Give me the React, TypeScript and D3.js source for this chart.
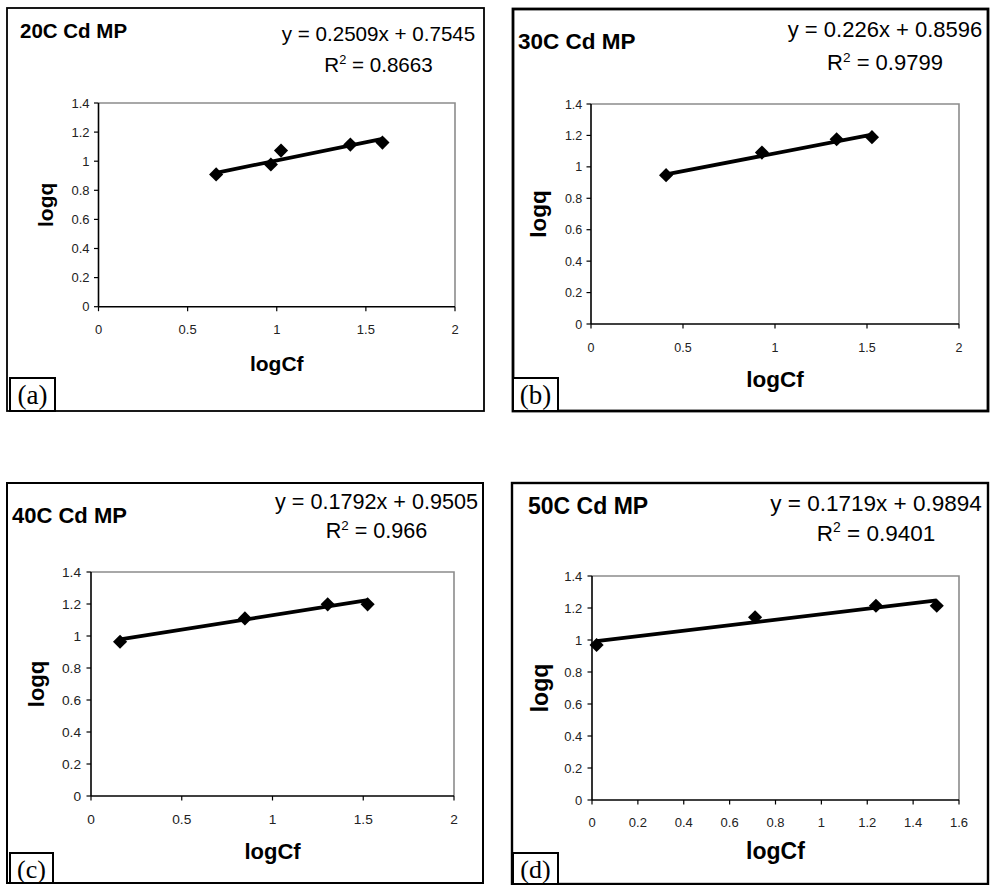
import React from "react";
import * as d3 from "d3";

// ---------- data ----------
const panelLabels = ["(a)", "(b)", "(c)", "(d)"];
const titles = ["20C Cd MP", "30C Cd MP", "40C Cd MP", "50C Cd MP"];
const equations = ["y = 0.2509x + 0.7545", "y = 0.226x + 0.8596", "y = 0.1792x + 0.9505", "y = 0.1719x + 0.9894"];
const r2Values = ["0.8663", "0.9799", "0.966", "0.9401"];
const slopes = [0.2509, 0.226, 0.1792, 0.1719];
const intercepts = [0.7545, 0.8596, 0.9505, 0.9894];

const logCf20 = [0.66, 0.967, 1.024, 1.413, 1.593];
const logq20 = [0.909, 0.977, 1.073, 1.114, 1.128];
const logCf30 = [0.408, 0.929, 1.335, 1.527];
const logq30 = [0.947, 1.091, 1.176, 1.189];
const logCf40 = [0.16, 0.848, 1.304, 1.524];
const logq40 = [0.964, 1.11, 1.198, 1.198];
const logCf50 = [0.02, 0.711, 1.238, 1.503];
const logq50 = [0.969, 1.142, 1.214, 1.214];

const xTicks2 = [0, 0.5, 1, 1.5, 2];
const xTicks16 = [0, 0.2, 0.4, 0.6, 0.8, 1, 1.2, 1.4, 1.6];
const xTickLabels2 = ["0", "0.5", "1", "1.5", "2"];
const xTickLabels16 = ["0", "0.2", "0.4", "0.6", "0.8", "1", "1.2", "1.4", "1.6"];
const yTicks = [0, 0.2, 0.4, 0.6, 0.8, 1, 1.2, 1.4];
const yTickLabels = ["0", "0.2", "0.4", "0.6", "0.8", "1", "1.2", "1.4"];
const xAxisTitle = "logCf";
const yAxisTitle = "logq";

const xs = [logCf20, logCf30, logCf40, logCf50];
const ys = [logq20, logq30, logq40, logq50];
const xTickSets = [xTicks2, xTicks2, xTicks2, xTicks16];
const xTickLabelSets = [xTickLabels2, xTickLabels2, xTickLabels2, xTickLabels16];

// ---------- layout ----------
const layouts = [
  { box: [7, 8, 484, 411], bw: 1.8, plot: [98.5, 103, 455, 306.7], title: [20, 38.3, 20.5], eq: [378.5, 40.7, 71.7, 20.6], tick: 13, yGap: 9, xTickY: 333.5, xlabelY: 370.5, ylabelX: 52.5, axisFs: 21, lab: [10, 378, 55, 411, 403.5, 27] },
  { box: [513, 9, 988, 411], bw: 2.8, plot: [591, 104, 959, 324], title: [518, 49.3, 22.5], eq: [885, 36.7, 70, 22], tick: 12.5, yGap: 8.7, xTickY: 351.5, xlabelY: 387, ylabelX: 546, axisFs: 22.5, lab: [513, 378, 558, 411, 403.5, 27] },
  { box: [7, 483, 483, 883], bw: 2, plot: [91, 572, 454, 796], title: [12, 522.7, 22], eq: [376.5, 509.3, 538.3, 21.6], tick: 13.7, yGap: 10, xTickY: 824, xlabelY: 859, ylabelX: 44, axisFs: 22, lab: [10, 853, 53, 883, 878, 26] },
  { box: [512, 483, 988, 884], bw: 2.4, plot: [592, 576, 959, 800], title: [528, 514, 23], eq: [876, 510.7, 540.7, 22.5], tick: 13, yGap: 9.7, xTickY: 826.5, xlabelY: 859, ylabelX: 548, axisFs: 23, lab: [513, 853, 558, 884, 878, 26] },
];

const SANS = "'Liberation Sans', Arial, Helvetica, sans-serif";
const SERIF = "'Liberation Serif', 'Times New Roman', serif";

function Panel({ i }: { i: number }) {
  const L = layouts[i];
  const [x0, y0, x1, y1] = L.plot;
  const xt = xTickSets[i];
  const x = d3.scaleLinear().domain([xt[0], xt[xt.length - 1]]).range([x0, x1]);
  const y = d3.scaleLinear().domain([0, 1.4]).range([y1, y0]);
  const dx = xs[i];
  const dy = ys[i];
  const xmin = d3.min(dx) as number;
  const xmax = d3.max(dx) as number;
  const line = d3.line<number>().x((v) => x(v)).y((v) => y(slopes[i] * v + intercepts[i]));
  const diamond = d3.symbol().type(d3.symbolSquare).size(100)();
  const [bx0, by0, bx1, by1] = L.box;
  const [lx0, ly0, lx1, ly1, lby, lfs] = L.lab;
  const eqFs = L.eq[3];
  return (
    <g>
      <rect x={bx0} y={by0} width={bx1 - bx0} height={by1 - by0} fill="#fff" stroke="#000" strokeWidth={L.bw} />
      <text x={L.title[0]} y={L.title[1]} fontFamily={SANS} fontWeight="bold" fontSize={L.title[2]} fill="#000">{titles[i]}</text>
      <text x={L.eq[0]} y={L.eq[1]} textAnchor="middle" fontFamily={SANS} fontSize={eqFs} fill="#000">{equations[i]}</text>
      <text x={L.eq[0]} y={L.eq[2]} textAnchor="middle" fontFamily={SANS} fontSize={eqFs} fill="#000">
        <tspan>R</tspan>
        <tspan dy={-eqFs * 0.38} fontSize={eqFs * 0.62}>2</tspan>
        <tspan dy={eqFs * 0.38}>{" = " + r2Values[i]}</tspan>
      </text>
      {/* plot frame top/right */}
      <path d={`M${x0},${y0}H${x1}V${y1}`} fill="none" stroke="#8c8c8c" strokeWidth={1.6} />
      {/* axes */}
      <line x1={x0} x2={x0} y1={y0} y2={y1} stroke="#000" strokeWidth={1.6} />
      <line x1={x0} x2={x1} y1={y1} y2={y1} stroke="#000" strokeWidth={1.6} />
      {yTicks.map((t, k) => (
        <g key={"y" + k}>
          <line x1={x0 - 4.5} x2={x0} y1={y(t)} y2={y(t)} stroke="#000" strokeWidth={1.2} />
          <text x={x0 - L.yGap} y={y(t) + L.tick * 0.36} textAnchor="end" fontFamily={SANS} fontSize={L.tick} fill="#222">{yTickLabels[k]}</text>
        </g>
      ))}
      {xt.map((t, k) => (
        <g key={"x" + k}>
          <line x1={x(t)} x2={x(t)} y1={y1} y2={y1 + 4.5} stroke="#000" strokeWidth={1.2} />
          <text x={x(t)} y={L.xTickY} textAnchor="middle" fontFamily={SANS} fontSize={L.tick} fill="#222">{xTickLabelSets[i][k]}</text>
        </g>
      ))}
      <text x={(x0 + x1) / 2} y={L.xlabelY} textAnchor="middle" fontFamily={SANS} fontWeight="bold" fontSize={L.axisFs} fill="#000">{xAxisTitle}</text>
      <text transform={`translate(${L.ylabelX},${(y0 + y1) / 2}) rotate(-90)`} textAnchor="middle" fontFamily={SANS} fontWeight="bold" fontSize={L.axisFs} fill="#000">{yAxisTitle}</text>
      {/* trendline */}
      <path d={line([xmin, xmax]) as string} fill="none" stroke="#000" strokeWidth={3.8} />
      {dx.map((v, k) => (
        <path key={"p" + k} d={diamond as string} transform={`translate(${x(v)},${y(dy[k])}) rotate(45)`} fill="#000" />
      ))}
      {/* panel label */}
      <rect x={lx0} y={ly0} width={lx1 - lx0} height={ly1 - ly0} fill="#fff" stroke="#000" strokeWidth={2} />
      <text x={(lx0 + lx1) / 2} y={lby} textAnchor="middle" fontFamily={SERIF} fontSize={lfs} fill="#000">{panelLabels[i]}</text>
    </g>
  );
}

export default function App() {
  return (
    <svg width={990} height={885} style={{ position: "absolute", left: 0, top: 0, background: "#fff" }}>
      <rect x={0} y={0} width={990} height={885} fill="#fff" />
      {[0, 1, 2, 3].map((i) => (
        <Panel key={i} i={i} />
      ))}
    </svg>
  );
}
